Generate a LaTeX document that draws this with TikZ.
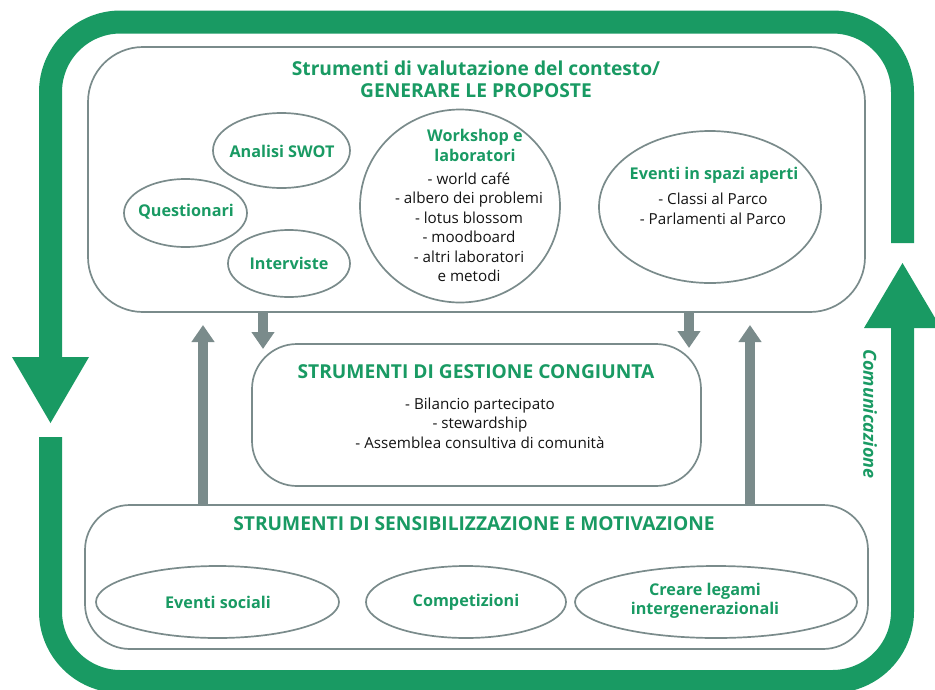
\documentclass[tikz,border=0pt]{standalone}
\usepackage{fontspec}
\setmainfont{Open Sans}
\usetikzlibrary{shapes.geometric,arrows.meta}
\definecolor{fgreen}{HTML}{199A63}
\definecolor{lgrey}{HTML}{7A8B8B}
\begin{document}
\begin{tikzpicture}[x=1pt,y=-1pt,
  frame/.style={line width=23pt, draw=fgreen, rounded corners=70pt},
  box/.style={draw=lgrey, line width=1.7pt, rectangle, inner sep=0pt},
  ell/.style={draw=lgrey, line width=1.7pt, ellipse, inner sep=0pt},
  gtitle/.style={text=fgreen, font=\fontsize{19.2}{22}\selectfont\bfseries, align=center, inner sep=0pt},
  etitle/.style={text=fgreen, font=\fontsize{16.2}{20}\selectfont\bfseries, align=center, inner sep=0pt},
  body/.style={text=black!92, font=\fontsize{15.2}{19.5}\selectfont, align=center, inner sep=0pt},
  garrow/.style={draw=lgrey, line width=10.5pt, -{Triangle[width=22pt,length=17pt]}},
]
\useasboundingbox (0,0) rectangle (935,689);

% green communication frame
\draw[frame] (902.5,243) -- (902.5,22) -- (50.5,22) -- (50.5,357);
\draw[frame] (50.5,437) -- (50.5,681.5) -- (902.5,681.5) -- (902.5,328);
\fill[fgreen] (12,357) -- (89,357) -- (50.5,423) -- cycle;
\fill[fgreen] (864,328) -- (941,328) -- (902.5,263) -- cycle;
\node[rotate=-90, text=fgreen, inner sep=0pt, font=\fontsize{18}{20}\selectfont\bfseries\itshape] (com) at (870,414) {Comunicazione};

% boxes
\node[box, rounded corners=55pt, minimum width=777pt, minimum height=265pt] (top) at (476.5,179.5) {};
\node[box, rounded corners=45pt, minimum width=449pt, minimum height=142pt] (mid) at (476.5,415) {};
\node[box, rounded corners=45pt, minimum width=783pt, minimum height=144pt] (bot) at (476.5,577) {};

% ellipses
\node[ell, minimum width=137pt, minimum height=75pt] (swot) at (281.5,150.5) {};
\node[ell, minimum width=123pt, minimum height=68pt] (quest) at (185.5,213) {};
\node[ell, minimum width=122pt, minimum height=67pt] (interv) at (289,263.5) {};
\node[ell, minimum width=200pt, minimum height=193pt] (ws) at (460,206) {};
\node[ell, minimum width=222pt, minimum height=152pt] (aperti) at (710,207) {};
\node[ell, minimum width=243pt, minimum height=72pt] (sociali) at (217.5,602) {};
\node[ell, minimum width=200pt, minimum height=72pt] (comp) at (466,602) {};
\node[ell, minimum width=282pt, minimum height=72pt] (legami) at (716,602) {};

% texts
\node[gtitle] (ttop) at (476,79) {Strumenti di valutazione del contesto/\\GENERARE LE PROPOSTE};
\node[etitle] (tswot) at (282,151) {Analisi SWOT};
\node[etitle] (tquest) at (186,212) {Questionari};
\node[etitle] (tinterv) at (289,263) {Interviste};
\node[etitle] (tws) at (475,145) {Workshop e\\laboratori};
\node[body] (bws) at (469,227) {- world café\\- albero dei problemi\\- lotus blossom\\- moodboard\\- altri laboratori\\e metodi};
\node[etitle] (taperti) at (714,175) {Eventi in spazi aperti};
\node[body] (baperti) at (713,209) {- Classi al Parco\\- Parlamenti al Parco};
\node[gtitle] (tmid) at (476,372) {STRUMENTI DI GESTIONE CONGIUNTA};
\node[body] (bmid) at (480,423) {- Bilancio partecipato\\- stewardship\\- Assemblea consultiva di comunità};
\node[gtitle] (tbot) at (474,524) {STRUMENTI DI SENSIBILIZZAZIONE E MOTIVAZIONE};
\node[etitle] (tsociali) at (218,602) {Eventi sociali};
\node[etitle] (tcomp) at (466,602) {Competizioni};
\node[etitle, font=\fontsize{16.2}{18.5}\selectfont\bfseries] (tlegami) at (705,601) {Creare legami\\intergenerazionali};

% grey arrows
\coordinate (xa) at (263,0);
\coordinate (xb) at (689,0);
\coordinate (xc) at (203,0);
\coordinate (xd) at (750,0);
\coordinate (ta) at (263,349);
\coordinate (tb) at (689,348);
\coordinate (tc) at (203,325);
\coordinate (td) at (750,325);
\draw[garrow] (top.south -| xa) -- (ta);
\draw[garrow] (top.south -| xb) -- (tb);
\draw[garrow] (bot.north -| xc) -- (tc);
\draw[garrow] (bot.north -| xd) -- (td);
\end{tikzpicture}
\end{document}
